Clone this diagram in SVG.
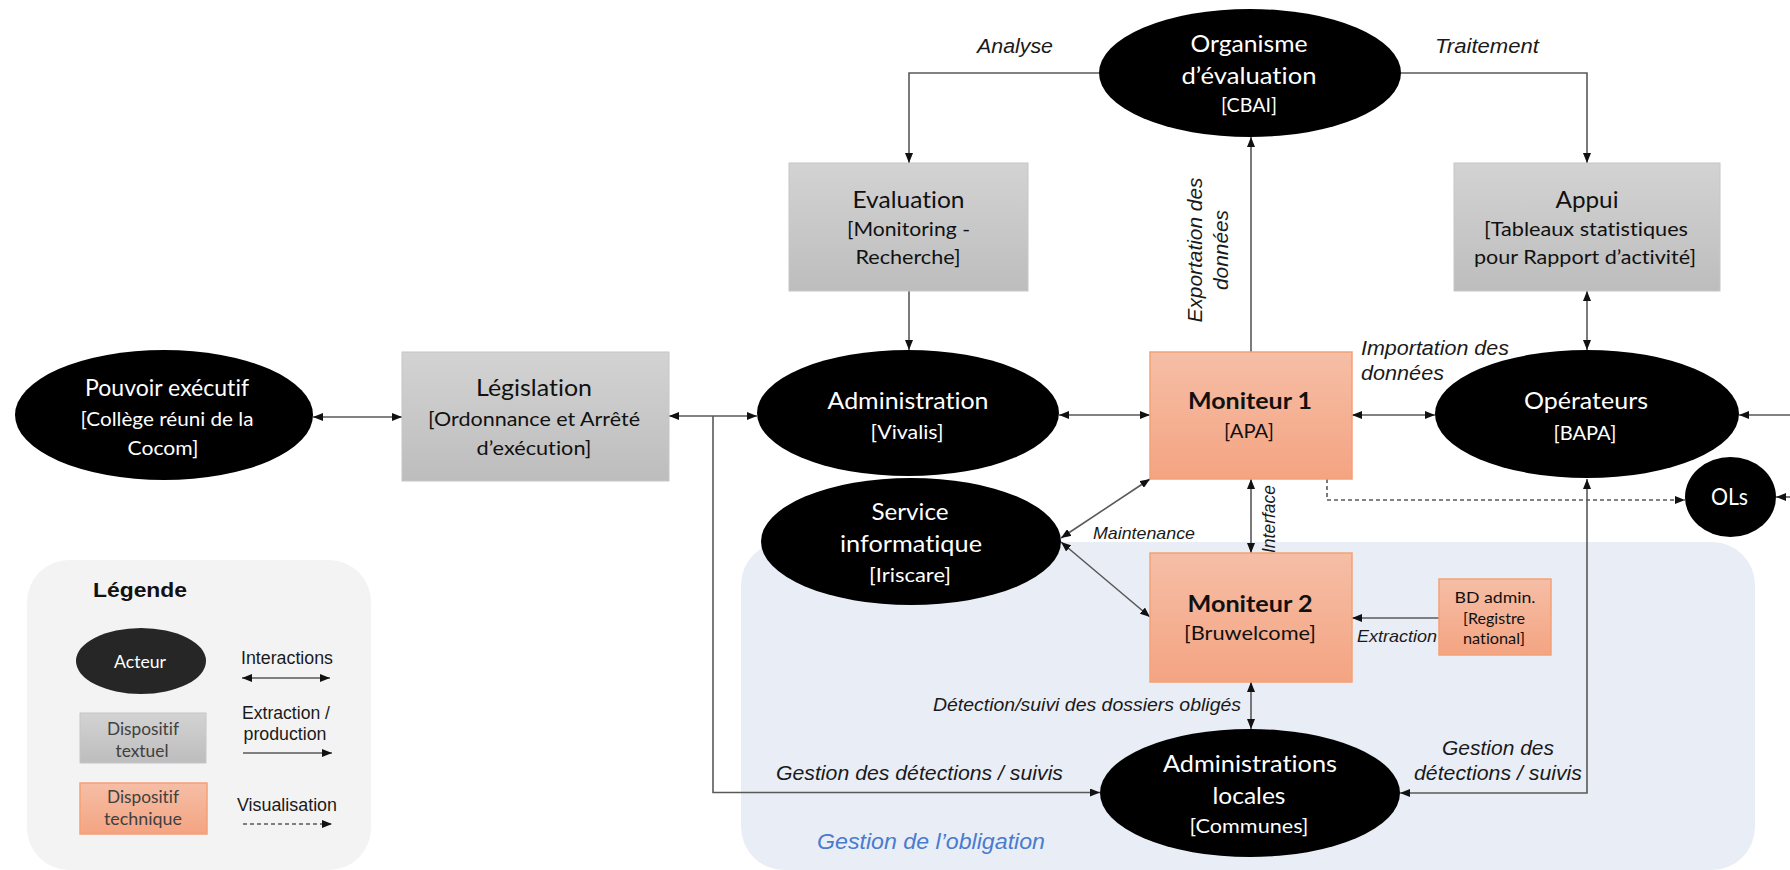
<svg xmlns="http://www.w3.org/2000/svg" width="1790" height="870" viewBox="0 0 1790 870">
<defs>
<linearGradient id="gGray" x1="0" y1="0" x2="0" y2="1"><stop offset="0" stop-color="#d3d3d3"/><stop offset="1" stop-color="#bdbdbd"/></linearGradient>
<linearGradient id="gOr" x1="0" y1="0" x2="0" y2="1"><stop offset="0" stop-color="#f6bea6"/><stop offset="1" stop-color="#f4a482"/></linearGradient>
<marker id="ah" viewBox="0 0 10 8" refX="10" refY="4" markerWidth="10" markerHeight="8" markerUnits="userSpaceOnUse" orient="auto-start-reverse"><path d="M0,0 L10,4 L0,8 z" fill="#111"/></marker>
<style>
text{font-variant-ligatures:none}
.el{fill:#000}
.bx{fill:url(#gGray);stroke:#c6c6c6;stroke-width:1}
.ob{fill:url(#gOr);stroke:#f3a176;stroke-width:1.5}
.t{font-family:Lato,"Liberation Sans",sans-serif;text-anchor:middle;fill:#fff}
.d{fill:#111}
.tt{font-size:22.5px}
.ts{font-size:19.5px}
.b{font-weight:bold}
.ln{fill:none;stroke:#595959;stroke-width:1.6}
.dash{stroke-dasharray:4 3}
.lb{font-family:"Liberation Sans",Arial,sans-serif;font-style:italic;fill:#1a1a1a}
.lg{font-family:"Liberation Sans",Arial,sans-serif;fill:#1a1a1a;text-anchor:middle;font-size:17.5px}
</style>
</defs>

<g id="zone-obligation">
<rect x="741" y="542" width="1014" height="328" rx="43" fill="#e9eef6"/>
<text class="lb" x="817" y="849" font-size="21.5" style="fill:#4a7bd0" textLength="228" lengthAdjust="spacingAndGlyphs">Gestion de l’obligation</text>
</g>

<g id="legende">
<rect x="27" y="560" width="344" height="310" rx="42" fill="#f3f3f3"/>
<text x="93" y="597" font-family="'Liberation Sans',Arial,sans-serif" font-weight="bold" font-size="21" fill="#111" textLength="94" lengthAdjust="spacingAndGlyphs">Légende</text>
<ellipse cx="141" cy="661" rx="65" ry="33" fill="#262626"/>
<text class="t" x="140" y="668" font-size="17.5" textLength="52" lengthAdjust="spacingAndGlyphs">Acteur</text>
<text class="lg" x="287" y="664" textLength="92" lengthAdjust="spacingAndGlyphs">Interactions</text>
<line class="ln" x1="242" y1="678" x2="330" y2="678" marker-start="url(#ah)" marker-end="url(#ah)"/>
<rect x="80" y="713" width="126" height="50" class="bx"/>
<text class="t" x="143" y="735" font-size="17" style="fill:#404040" textLength="72" lengthAdjust="spacingAndGlyphs">Dispositif</text>
<text class="t" x="142" y="757" font-size="17" style="fill:#404040" textLength="53" lengthAdjust="spacingAndGlyphs">textuel</text>
<text class="lg" x="286" y="719" textLength="88" lengthAdjust="spacingAndGlyphs">Extraction /</text>
<text class="lg" x="285" y="740" textLength="83" lengthAdjust="spacingAndGlyphs">production</text>
<line class="ln" x1="243" y1="753" x2="332" y2="753" marker-end="url(#ah)"/>
<rect x="80" y="783" width="127" height="51" class="ob"/>
<text class="t" x="143" y="803" font-size="17" style="fill:#404040" textLength="72" lengthAdjust="spacingAndGlyphs">Dispositif</text>
<text class="t" x="143" y="825" font-size="17" style="fill:#404040" textLength="78" lengthAdjust="spacingAndGlyphs">technique</text>
<text class="lg" x="287" y="811" textLength="100" lengthAdjust="spacingAndGlyphs">Visualisation</text>
<line class="ln dash" x1="243" y1="824" x2="332" y2="824" marker-end="url(#ah)"/>
</g>

<g id="connecteurs">
<line class="ln" x1="313" y1="417" x2="402" y2="417" marker-start="url(#ah)" marker-end="url(#ah)"/>
<line class="ln" x1="669" y1="416" x2="757" y2="416" marker-start="url(#ah)" marker-end="url(#ah)"/>
<polyline class="ln" points="713,416 713,792.5 1100,792.5" marker-end="url(#ah)"/>
<polyline class="ln" points="1099,73 909,73 909,163" marker-end="url(#ah)"/>
<polyline class="ln" points="1401,73 1587,73 1587,163" marker-end="url(#ah)"/>
<line class="ln" x1="909" y1="291" x2="909" y2="350" marker-end="url(#ah)"/>
<line class="ln" x1="1587" y1="291" x2="1587" y2="350" marker-start="url(#ah)" marker-end="url(#ah)"/>
<line class="ln" x1="1251" y1="352" x2="1251" y2="137" marker-end="url(#ah)"/>
<line class="ln" x1="1059" y1="415" x2="1150" y2="415" marker-start="url(#ah)" marker-end="url(#ah)"/>
<line class="ln" x1="1352" y1="415" x2="1435" y2="415" marker-start="url(#ah)" marker-end="url(#ah)"/>
<line class="ln" x1="1790" y1="415" x2="1739" y2="415" marker-end="url(#ah)"/>
<line class="ln" x1="1790" y1="497" x2="1776" y2="497" marker-end="url(#ah)"/>
<polyline class="ln dash" points="1327,479 1327,500 1685,500" marker-end="url(#ah)"/>
<line class="ln" x1="1061" y1="538" x2="1150" y2="479" marker-start="url(#ah)" marker-end="url(#ah)"/>
<line class="ln" x1="1061" y1="542" x2="1150" y2="617" marker-start="url(#ah)" marker-end="url(#ah)"/>
<line class="ln" x1="1251" y1="479" x2="1251" y2="553" marker-start="url(#ah)" marker-end="url(#ah)"/>
<line class="ln" x1="1439" y1="618" x2="1352" y2="618" marker-end="url(#ah)"/>
<line class="ln" x1="1251" y1="682" x2="1251" y2="729" marker-start="url(#ah)" marker-end="url(#ah)"/>
<polyline class="ln" points="1587,479 1587,793 1400,793" marker-start="url(#ah)" marker-end="url(#ah)"/>

<text class="lb" x="977" y="53" font-size="20" textLength="76" lengthAdjust="spacingAndGlyphs">Analyse</text>
<text class="lb" x="1435" y="53" font-size="20" textLength="104" lengthAdjust="spacingAndGlyphs">Traitement</text>
<text class="lb" transform="translate(1202,250) rotate(-90)" x="0" y="0" font-size="21" text-anchor="middle" textLength="145" lengthAdjust="spacingAndGlyphs">Exportation des</text>
<text class="lb" transform="translate(1228,250) rotate(-90)" x="0" y="0" font-size="21" text-anchor="middle" textLength="80" lengthAdjust="spacingAndGlyphs">données</text>
<text class="lb" x="1361" y="355" font-size="20" textLength="148" lengthAdjust="spacingAndGlyphs">Importation des</text>
<text class="lb" x="1361" y="380" font-size="20" textLength="83" lengthAdjust="spacingAndGlyphs">données</text>
<text class="lb" x="1093" y="539" font-size="16.5" textLength="102" lengthAdjust="spacingAndGlyphs">Maintenance</text>
<text class="lb" transform="translate(1275,519) rotate(-90)" x="0" y="0" font-size="17.5" text-anchor="middle" textLength="68" lengthAdjust="spacingAndGlyphs">Interface</text>
<text class="lb" x="1357" y="641.5" font-size="17" textLength="80" lengthAdjust="spacingAndGlyphs">Extraction</text>
<text class="lb" x="933" y="710.5" font-size="19" textLength="308" lengthAdjust="spacingAndGlyphs">Détection/suivi des dossiers obligés</text>
<text class="lb" x="776" y="780" font-size="20" textLength="287" lengthAdjust="spacingAndGlyphs">Gestion des détections / suivis</text>
<text class="lb" x="1498" y="755" font-size="20" text-anchor="middle" textLength="112" lengthAdjust="spacingAndGlyphs">Gestion des</text>
<text class="lb" x="1498" y="780" font-size="20" text-anchor="middle" textLength="168" lengthAdjust="spacingAndGlyphs">détections / suivis</text>
</g>

<g id="organisme">
<ellipse class="el" cx="1250" cy="73" rx="151" ry="64"/>
<text class="t tt" x="1249" y="52" textLength="117" lengthAdjust="spacingAndGlyphs">Organisme</text>
<text class="t tt" x="1249" y="84" textLength="135" lengthAdjust="spacingAndGlyphs">d’évaluation</text>
<text class="t ts" x="1249" y="112" textLength="56" lengthAdjust="spacingAndGlyphs">[CBAI]</text>
</g>

<g id="evaluation">
<rect class="bx" x="789" y="163" width="239" height="128"/>
<text class="t tt d" x="908.5" y="208" textLength="112" lengthAdjust="spacingAndGlyphs">Evaluation</text>
<text class="t ts d" x="908.5" y="236" textLength="123" lengthAdjust="spacingAndGlyphs">[Monitoring -</text>
<text class="t ts d" x="908" y="264" textLength="105" lengthAdjust="spacingAndGlyphs">Recherche]</text>
</g>

<g id="appui">
<rect class="bx" x="1454" y="163" width="266" height="128"/>
<text class="t tt d" x="1587" y="208" textLength="63" lengthAdjust="spacingAndGlyphs">Appui</text>
<text class="t ts d" x="1586" y="236" textLength="204" lengthAdjust="spacingAndGlyphs">[Tableaux statistiques</text>
<text class="t ts d" x="1585" y="264" textLength="222" lengthAdjust="spacingAndGlyphs">pour Rapport d’activité]</text>
</g>

<g id="pouvoir-executif">
<ellipse class="el" cx="164" cy="415" rx="149" ry="65"/>
<text class="t tt" x="167" y="396" textLength="164" lengthAdjust="spacingAndGlyphs">Pouvoir exécutif</text>
<text class="t ts" x="167" y="426" textLength="173" lengthAdjust="spacingAndGlyphs">[Collège réuni de la</text>
<text class="t ts" x="163" y="455" textLength="71" lengthAdjust="spacingAndGlyphs">Cocom]</text>
</g>

<g id="legislation">
<rect class="bx" x="402" y="352" width="267" height="129"/>
<text class="t tt d" x="534" y="396" textLength="116" lengthAdjust="spacingAndGlyphs">Législation</text>
<text class="t ts d" x="534" y="426" textLength="212" lengthAdjust="spacingAndGlyphs">[Ordonnance et Arrêté</text>
<text class="t ts d" x="534" y="455" textLength="115" lengthAdjust="spacingAndGlyphs">d’exécution]</text>
</g>

<g id="administration">
<ellipse class="el" cx="908" cy="413" rx="151" ry="63"/>
<text class="t tt" x="908" y="409" textLength="161" lengthAdjust="spacingAndGlyphs">Administration</text>
<text class="t ts" x="907" y="439" textLength="73" lengthAdjust="spacingAndGlyphs">[Vivalis]</text>
</g>

<g id="service-informatique">
<ellipse class="el" cx="911" cy="541.5" rx="150" ry="63.5"/>
<text class="t tt" x="910" y="520" textLength="77" lengthAdjust="spacingAndGlyphs">Service</text>
<text class="t tt" x="911" y="551.5" textLength="142" lengthAdjust="spacingAndGlyphs">informatique</text>
<text class="t ts" x="910" y="581.5" textLength="82" lengthAdjust="spacingAndGlyphs">[Iriscare]</text>
</g>

<g id="moniteur-1">
<rect class="ob" x="1150" y="352" width="202" height="127"/>
<text class="t tt d b" x="1250" y="409" textLength="124" lengthAdjust="spacingAndGlyphs">Moniteur 1</text>
<text class="t ts d" x="1249" y="438" textLength="50" lengthAdjust="spacingAndGlyphs">[APA]</text>
</g>

<g id="operateurs">
<ellipse class="el" cx="1587" cy="414" rx="152" ry="64"/>
<text class="t tt" x="1586" y="409" textLength="124" lengthAdjust="spacingAndGlyphs">Opérateurs</text>
<text class="t ts" x="1585" y="440" textLength="63" lengthAdjust="spacingAndGlyphs">[BAPA]</text>
</g>

<g id="ols">
<ellipse class="el" cx="1730.5" cy="497" rx="45.5" ry="40"/>
<text class="t tt" x="1729.5" y="505" textLength="37" lengthAdjust="spacingAndGlyphs">OLs</text>
</g>

<g id="moniteur-2">
<rect class="ob" x="1150" y="553" width="202" height="129"/>
<text class="t tt d b" x="1250" y="611.5" textLength="125" lengthAdjust="spacingAndGlyphs">Moniteur 2</text>
<text class="t ts d" x="1250" y="640" textLength="132" lengthAdjust="spacingAndGlyphs">[Bruwelcome]</text>
</g>

<g id="bd-admin">
<rect class="ob" x="1439" y="579" width="112" height="76"/>
<text class="t d" x="1495" y="603" font-size="16" textLength="81" lengthAdjust="spacingAndGlyphs">BD admin.</text>
<text class="t d" x="1494" y="624" font-size="16" textLength="62" lengthAdjust="spacingAndGlyphs">[Registre</text>
<text class="t d" x="1494" y="644" font-size="16" textLength="62" lengthAdjust="spacingAndGlyphs">national]</text>
</g>

<g id="administrations-locales">
<ellipse class="el" cx="1250" cy="793" rx="150" ry="64"/>
<text class="t tt" x="1250" y="771.5" textLength="174" lengthAdjust="spacingAndGlyphs">Administrations</text>
<text class="t tt" x="1249" y="804" textLength="73" lengthAdjust="spacingAndGlyphs">locales</text>
<text class="t ts" x="1249" y="833" textLength="119" lengthAdjust="spacingAndGlyphs">[Communes]</text>
</g>
</svg>
